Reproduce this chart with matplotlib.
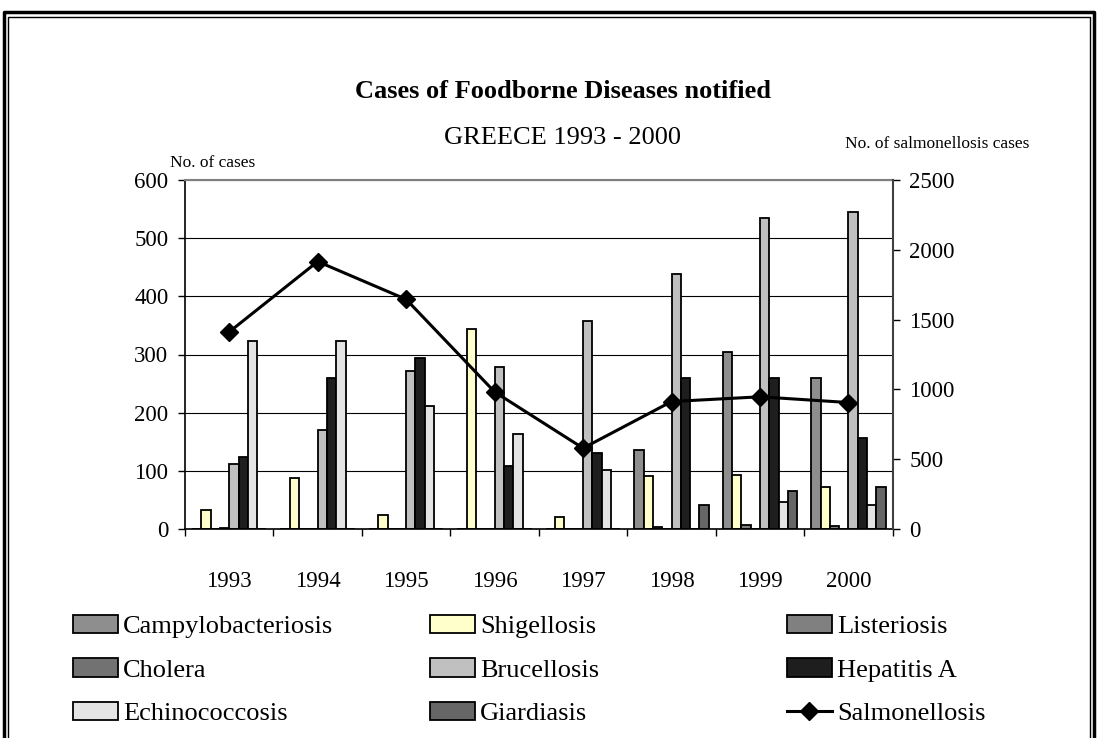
import numpy as np
import matplotlib
matplotlib.use("Agg")
import matplotlib.pyplot as plt
from matplotlib.lines import Line2D
from matplotlib.patches import Patch

plt.rcParams['font.family'] = ['Liberation Serif', 'DejaVu Serif']

years = ['1993', '1994', '1995', '1996', '1997', '1998', '1999', '2000']

# cases per year (left axis)
campylobacteriosis = [0, 0, 0, 0, 0, 135, 305, 259]
shigellosis = [32, 88, 24, 343, 21, 91, 92, 72]
listeriosis = [0, 0, 0, 0, 0, 3, 7, 6]
cholera = [2, 0, 0, 0, 0, 0, 0, 0]
brucellosis = [112, 170, 271, 279, 358, 438, 535, 545]
hepatitis_a = [124, 259, 294, 108, 131, 260, 259, 157]
echinococcosis = [324, 324, 212, 164, 101, 0, 46, 41]
giardiasis = [0, 0, 0, 0, 0, 42, 65, 72]

# salmonellosis (right axis)
salmonellosis = [1412, 1916, 1645, 982, 579, 913, 947, 906]

series = [
    ('Campylobacteriosis', campylobacteriosis, '#8e8e8e'),
    ('Shigellosis', shigellosis, '#ffffcc'),
    ('Listeriosis', listeriosis, '#808080'),
    ('Cholera', cholera, '#727272'),
    ('Brucellosis', brucellosis, '#c0c0c0'),
    ('Hepatitis A', hepatitis_a, '#1e1e1e'),
    ('Echinococcosis', echinococcosis, '#e4e4e4'),
    ('Giardiasis', giardiasis, '#666666'),
]

W, H = 1098, 738
fig = plt.figure(figsize=(W / 100, H / 100), dpi=100)
ax = fig.add_axes([185 / W, 1 - 529 / H, (892.7 - 185) / W, (529 - 180) / H])

x = np.arange(len(years))
n = len(series)
w = 1 / (n + 1.5)
for i, (name, vals, col) in enumerate(series):
    pos = x - 0.5 + (0.75 + i + 0.5) * w
    ax.bar(pos, vals, width=w, color=col, edgecolor='black', linewidth=1.3, zorder=2)

ax.set_xlim(-0.5, len(years) - 0.5)
ax.set_ylim(0, 600)
ax.set_yticks(range(0, 601, 100))
ax.set_axisbelow(True)
ax.yaxis.grid(True, color='black', linewidth=0.8)

# tick marks between categories, labels at centres
ax.set_xticks(np.arange(len(years) + 1) - 0.5)
ax.set_xticklabels([])
ax.set_xticks(x, minor=True)
ax.set_xticklabels(years, minor=True)
ax.tick_params(axis='x', which='minor', length=0, pad=30, labelsize=16.5)
ax.tick_params(axis='x', which='major', length=5, width=1, direction='out')
ax.tick_params(axis='y', length=5, width=1, direction='out', pad=7, labelsize=16.5)

ax.spines['top'].set_color('#808080')
ax.spines['top'].set_linewidth(1.5)
ax.spines['right'].set_visible(False)
ax.spines['left'].set_linewidth(1.2)
ax.spines['bottom'].set_linewidth(1.2)

ax2 = ax.twinx()
ax2.plot(x, salmonellosis, color='black', linewidth=2.2, marker='D', markersize=9)
ax2.set_ylim(0, 2500)
ax2.set_yticks(range(0, 2501, 500))
ax2.tick_params(axis='y', length=5, width=1, direction='out', pad=7, labelsize=16.5)
ax2.spines['right'].set_color('#404040')
ax2.spines['right'].set_linewidth(1.5)
for s in ['top', 'left', 'bottom']:
    ax2.spines[s].set_visible(False)

fig.text(563 / W, 1 - 91 / H, 'Cases of Foodborne Diseases notified', ha='center', va='center',
         fontsize=19, fontweight='bold')
fig.text(563 / W, 1 - 138 / H, 'GREECE 1993 - 2000', ha='center', va='center', fontsize=19)
fig.text(213 / W, 1 - 163 / H, 'No. of cases', ha='center', va='center', fontsize=12.5)
fig.text(937 / W, 1 - 144 / H, 'No. of salmonellosis cases', ha='center', va='center', fontsize=12.5)

# legend: three evenly spaced columns, read row by row
handles = [Patch(facecolor=c, edgecolor='black', linewidth=1.3) for _, _, c in series]
handles.append(Line2D([], [], color='black', linewidth=2.2, marker='D', markersize=9))
labels = [s[0] for s in series] + ['Salmonellosis']
order = [[0, 3, 6], [1, 4, 7], [2, 5, 8]]
col_x = [73, 430, 787]
for cx, idx in zip(col_x, order):
    fig.legend([handles[i] for i in idx], [labels[i] for i in idx],
               loc='upper left', bbox_to_anchor=(cx / W, 1 - 615 / H),
               frameon=False, fontsize=19, handlelength=1.7, handleheight=0.7,
               handletextpad=0.2, labelspacing=0.75, borderpad=0, borderaxespad=0)

# chart area border
def fig_line(xs, ys, lw):
    fig.add_artist(Line2D([v / W for v in xs], [1 - v / H for v in ys], color='black',
                          linewidth=lw, transform=fig.transFigure))

fig_line([4, 4, 1094, 1094], [760, 12, 12, 760], 2.5)
fig_line([8, 8, 1090, 1090], [760, 17, 17, 760], 1.0)

fig.savefig('out.png', dpi=100)
